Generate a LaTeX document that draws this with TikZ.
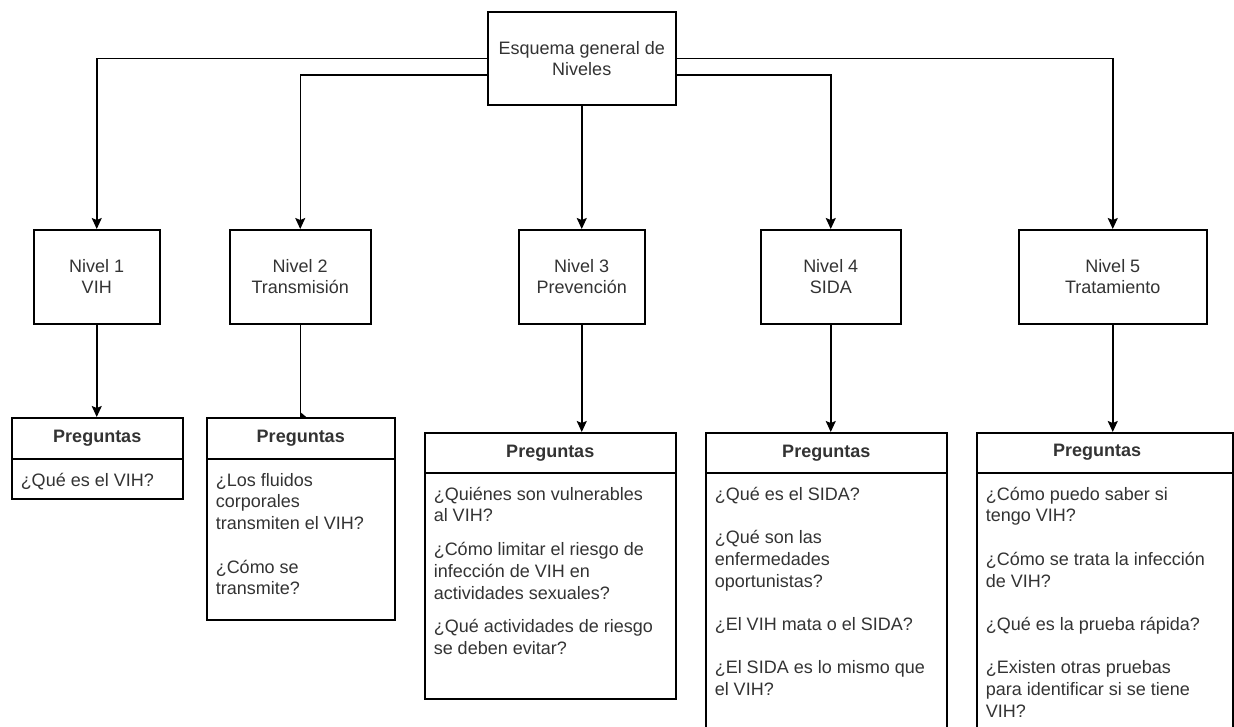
\documentclass[tikz,border=0pt]{standalone}
\usepackage{fontspec}
\setmainfont{Liberation Sans}
\usetikzlibrary{arrows.meta}
\definecolor{txt}{HTML}{333333}
\begin{document}
\begin{tikzpicture}[x=1pt,y=-1pt,
  line width=1.5pt,
  box/.style={draw=black, fill=white, rectangle, inner sep=0pt, anchor=north west},
  lbl/.style={font=\fontsize{18}{21.3}\selectfont, text=txt, align=center},
  hdr/.style={font=\fontsize{18}{21.5}\selectfont\bfseries, text=txt},
  body/.style={font=\fontsize{18}{21.7}\selectfont, text=txt, align=left, inner sep=0pt, anchor=north west},
  arr/.style={-{Stealth[length=11pt,width=10pt,inset=2pt]}}
]
\useasboundingbox (0,0) rectangle (1234,726);
\clip (0,0) rectangle (1234,726);

% top node
\node[box, lbl, minimum width=188pt, minimum height=93pt] (top) at (487,11) {Esquema general de\\Niveles};

% level nodes
\node[box, lbl, minimum width=126pt, minimum height=94pt] (l1) at (33,229) {Nivel 1\\VIH};
\node[box, lbl, minimum width=141pt, minimum height=94pt] (l2) at (229,229) {Nivel 2\\Transmisión};
\node[box, lbl, minimum width=126pt, minimum height=94pt] (l3) at (518,229) {Nivel 3\\Prevención};
\node[box, lbl, minimum width=140pt, minimum height=94pt] (l4) at (760,229) {Nivel 4\\SIDA};
\node[box, lbl, minimum width=188pt, minimum height=94pt] (l5) at (1018,229) {Nivel 5\\Tratamiento};

% connectors top -> levels
\draw[arr] (top.west) -| (l1.north);
\draw[arr] ([yshift=-16.5pt]top.west) -| (l2.north);
\draw[arr] (top.south) -- (l3.north);
\draw[arr] ([yshift=-16.5pt]top.east) -| (l4.north);
\draw[arr] (top.east) -| (l5.north);

% question boxes
\node[box, hdr, minimum width=171pt, minimum height=41pt] (q1h) at (11,417) {Preguntas};
\node[box, minimum width=171pt, minimum height=40pt] (q1b) at (11,458) {};
\node[body] (q1t) at (20,466.5) {\rule{0pt}{19pt}¿Qué es el VIH?};

\node[box, hdr, minimum width=188pt, minimum height=41pt] (q2h) at (206,417) {Preguntas};
\node[box, minimum width=188pt, minimum height=161pt] (q2b) at (206,458) {};
\node[body] (q2t) at (215,466.5) {\rule{0pt}{19pt}¿Los fluidos\\corporales\\transmiten el VIH?\\[21.7pt]¿Cómo se\\transmite?};

\node[box, hdr, minimum width=251pt, minimum height=40pt] (q3h) at (424,432) {Preguntas};
\node[box, minimum width=251pt, minimum height=226pt] (q3b) at (424,472) {};
\node[body] (q3t) at (433,480.5) {\rule{0pt}{19pt}¿Quiénes son vulnerables\\al VIH?\\[12pt]¿Cómo limitar el riesgo de\\infección de VIH en\\actividades sexuales?\\[12pt]¿Qué actividades de riesgo\\se deben evitar?};

\node[box, hdr, minimum width=241pt, minimum height=40pt] (q4h) at (705,432) {Preguntas};
\node[box, minimum width=241pt, minimum height=280pt] (q4b) at (705,472) {};
\node[body] (q4t) at (714,480.5) {\rule{0pt}{19pt}¿Qué es el SIDA?\\[21.7pt]¿Qué son las\\enfermedades\\oportunistas?\\[21.7pt]¿El VIH mata o el SIDA?\\[21.7pt]¿El SIDA es lo mismo que\\el VIH?};

\node[box, minimum width=256pt, minimum height=40pt] (q5h) at (976,432) {};
\node[hdr] (q5l) at (1097,452) {Preguntas};
\node[box, minimum width=256pt, minimum height=280pt] (q5b) at (976,472) {};
\node[body] (q5t) at (985,480.5) {\rule{0pt}{19pt}¿Cómo puedo saber si\\tengo VIH?\\[21.7pt]¿Cómo se trata la infección\\de VIH?\\[21.7pt]¿Qué es la prueba rápida?\\[21.7pt]¿Existen otras pruebas\\para identificar si se tiene\\VIH?};

% connectors levels -> questions
\draw[arr] (l1.south) -- (l1.south |- q1h.north);
\draw (l2.south) -- (l2.south |- q2h.north);
\fill (l2.south |- q2h.north) ++(0,-5) -- ++(6,5) -- ++(-6,0) -- cycle;
\draw[arr] (l3.south) -- (l3.south |- q3h.north);
\draw[arr] (l4.south) -- (l4.south |- q4h.north);
\draw[arr] (l5.south) -- (l5.south |- q5h.north);
\end{tikzpicture}
\end{document}
